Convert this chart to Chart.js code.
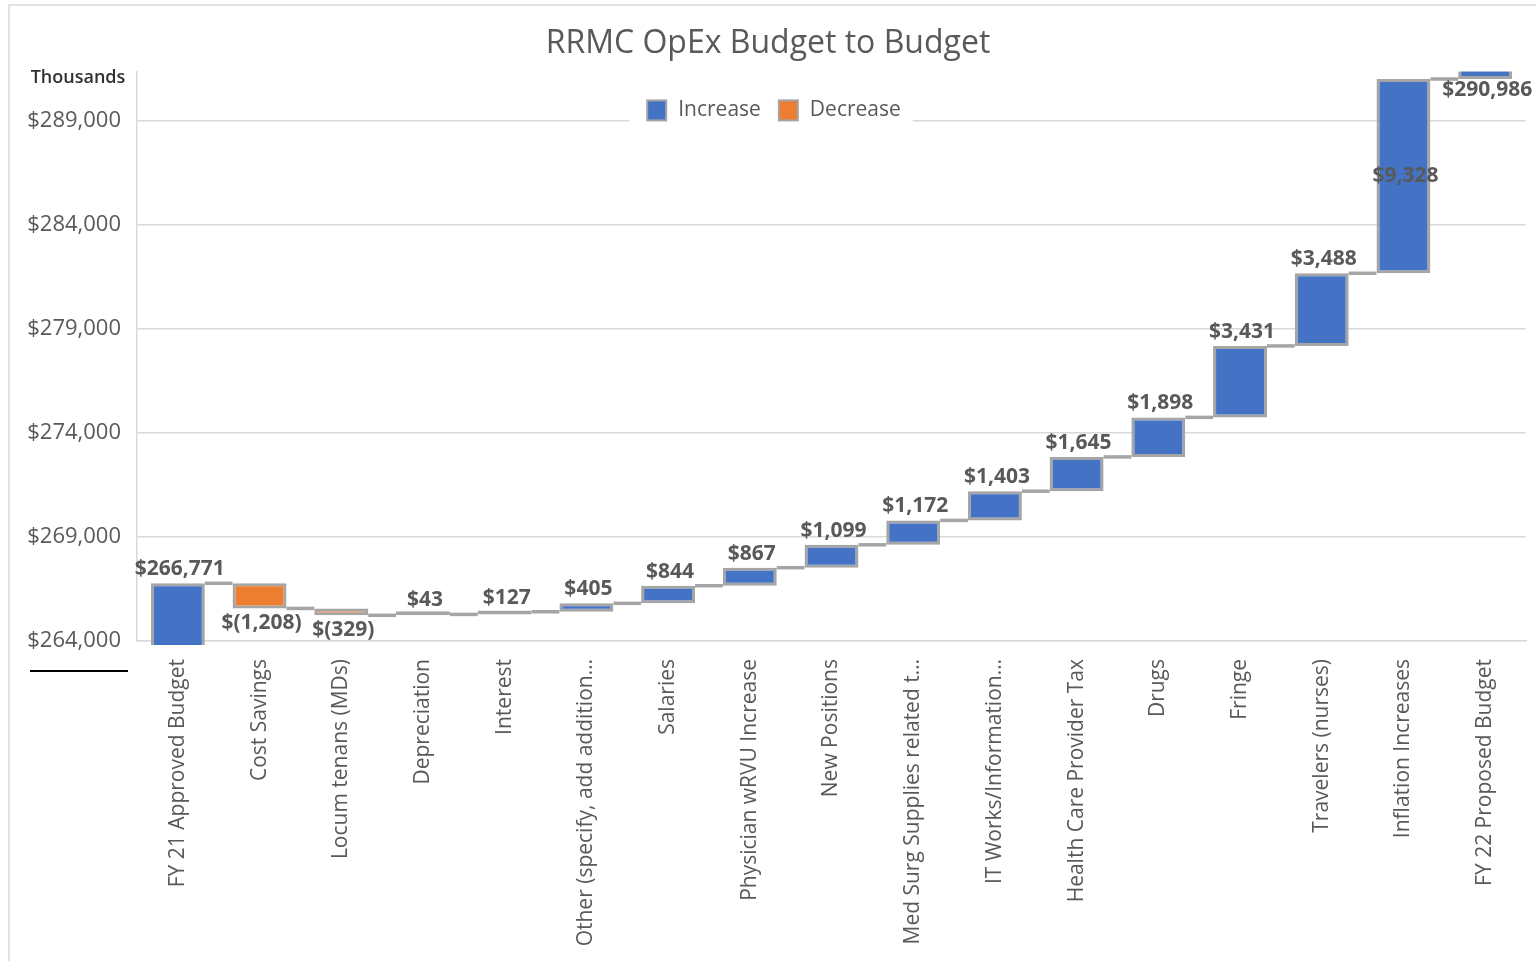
<!DOCTYPE html>
<html>
<head>
<meta charset="utf-8">
<title>RRMC OpEx Budget to Budget</title>
<script src="https://cdn.jsdelivr.net/npm/chart.js@4/dist/chart.umd.min.js"></script>
<style>
  html, body { margin: 0; padding: 0; background: #fff; }
  #wrap { width: 1536px; height: 961px; }
</style>
</head>
<body>
<div id="wrap"><canvas id="budget" width="1536" height="961"></canvas></div>
<script>
// categories along the bottom, in waterfall order
var categories = [
    "FY 21 Approved Budget",
    "Cost Savings",
    "Locum tenans (MDs)",
    "Depreciation",
    "Interest",
    "Other (specify, add addition\u2026",
    "Salaries",
    "Physician wRVU Increase",
    "New Positions",
    "Med Surg Supplies related t\u2026",
    "IT Works/Information\u2026",
    "Health Care Provider Tax",
    "Drugs",
    "Fringe",
    "Travelers (nurses)",
    "Inflation Increases",
    "FY 22 Proposed Budget"
];

// amounts in thousands
var amounts = [266771, -1208, -329, 43, 127, 405, 844, 867, 1099, 1172, 1403, 1645, 1898, 3431, 3488, 9328, 290986];

// y axis
var yTicks = [264000, 269000, 274000, 279000, 284000, 289000];
var yMin = 264000;
var yMax = 291350;

var legendLabels = ["Increase", "Decrease"];

var increaseColor = "#4472C4";
var decreaseColor = "#ED7D31";
var edgeColor = "#A5A5A5";
var textColor = "#595959";
var fontFamily = "'Open Sans', 'DejaVu Sans', sans-serif";

// every step sits on top of the running total (like the excel sheet does)
var bars = [];
var running = 0;
for (let i = 0; i < amounts.length; i++) {
    var start = running;
    var end = running + amounts[i];
    bars.push([start, end]);
    running = end;
}

function money(v) {
    var s = "$" + Math.abs(v).toLocaleString("en-US");
    if (v < 0) {
        s = "$(" + Math.abs(v).toLocaleString("en-US") + ")";
    }
    return s;
}

var waterfallExtras = {
    id: "waterfallExtras",

    beforeDraw: function (chart) {
        var ctx = chart.ctx;
        ctx.save();
        ctx.fillStyle = "#fff";
        ctx.fillRect(0, 0, chart.width, chart.height);
        // outer frame of the chart object
        ctx.strokeStyle = "#d9d9d9";
        ctx.lineWidth = 1.5;
        ctx.strokeRect(9, 5, chart.width + 20, chart.height + 20);
        ctx.restore();
    },

    afterDatasetsDraw: function (chart) {
        var ctx = chart.ctx;
        var meta = chart.getDatasetMeta(0);
        var yScale = chart.scales.y;
        var area = chart.chartArea;

        // connector lines between the steps
        ctx.save();
        ctx.strokeStyle = edgeColor;
        ctx.lineWidth = 3.5;
        for (let i = 0; i < bars.length - 1; i++) {
            var bar = meta.data[i];
            var next = meta.data[i + 1];
            var y = yScale.getPixelForValue(bars[i][1]);
            if (y < area.top || y > area.bottom) continue;
            ctx.beginPath();
            ctx.moveTo(bar.x + bar.width / 2, y);
            ctx.lineTo(next.x - next.width / 2, y);
            ctx.stroke();
        }
        ctx.restore();

        // value labels
        ctx.save();
        ctx.font = "bold 21px " + fontFamily;
        ctx.fillStyle = textColor;
        ctx.textAlign = "center";
        ctx.textBaseline = "middle";
        for (let i = 0; i < bars.length; i++) {
            var b = meta.data[i];
            var startPx = yScale.getPixelForValue(bars[i][0]);
            var endPx = yScale.getPixelForValue(bars[i][1]);
            var text = money(amounts[i]);
            var ly;
            if (amounts[i] >= 0) {
                if (endPx - 28 > area.top) {
                    ly = endPx - 14;
                } else {
                    var visTop = Math.max(endPx, area.top);
                    var visBottom = Math.min(startPx, area.bottom);
                    if (visBottom - visTop > 60) {
                        ly = (visTop + visBottom) / 2;
                    } else {
                        ly = startPx + 11;
                    }
                }
            } else {
                ly = endPx + 15;
            }
            ctx.fillText(text, b.x + 2, ly);
        }
        ctx.restore();
    },

    afterDraw: function (chart) {
        var ctx = chart.ctx;
        var area = chart.chartArea;
        ctx.save();

        // legend sitting on the top gridline
        ctx.font = "21px " + fontFamily;
        var sw = 19;
        var gap = 12;
        var itemGap = 18;
        var w1 = ctx.measureText(legendLabels[0]).width;
        var w2 = ctx.measureText(legendLabels[1]).width;
        var total = sw + gap + w1 + itemGap + sw + gap + w2;
        var x0 = chart.width / 2 + 6 - total / 2;
        var cy = area.top + 39;

        ctx.fillStyle = "#fff";
        ctx.fillRect(x0 - 18, cy - 16, total + 30, 32);

        var colors = [increaseColor, decreaseColor];
        var widths = [w1, w2];
        var x = x0;
        for (let i = 0; i < legendLabels.length; i++) {
            ctx.fillStyle = colors[i];
            ctx.fillRect(x, cy - 10, sw, 20);
            ctx.strokeStyle = edgeColor;
            ctx.lineWidth = 2;
            ctx.strokeRect(x, cy - 10, sw, 20);
            ctx.fillStyle = textColor;
            ctx.textAlign = "left";
            ctx.textBaseline = "middle";
            ctx.fillText(legendLabels[i], x + sw + gap, cy);
            x = x + sw + gap + widths[i] + itemGap;
        }

        // display units label
        ctx.font = "600 18px " + fontFamily;
        ctx.fillStyle = "#303030";
        ctx.textAlign = "center";
        ctx.fillText("Thousands", area.left - 59, area.top + 6);

        // short black rule under the axis labels
        ctx.strokeStyle = "#000";
        ctx.lineWidth = 2;
        ctx.beginPath();
        ctx.moveTo(area.left - 107, area.bottom + 30);
        ctx.lineTo(area.left - 9, area.bottom + 30);
        ctx.stroke();

        ctx.restore();
    }
};

Chart.defaults.font.family = fontFamily;

new Chart(document.getElementById("budget"), {
    type: "bar",
    data: {
        labels: categories,
        datasets: [{
            label: "Budget",
            data: bars,
            backgroundColor: amounts.map(v => (v < 0 ? decreaseColor : increaseColor)),
            borderColor: edgeColor,
            borderWidth: 3,
            borderSkipped: false,
            minBarLength: 4,
            barPercentage: 0.66,
            categoryPercentage: 1,
            clip: { left: 0, top: 0, right: 0, bottom: 4 }
        }]
    },
    options: {
        responsive: false,
        animation: false,
        layout: { padding: { left: 10, right: 10, top: 0, bottom: 0 } },
        plugins: {
            legend: { display: false },
            tooltip: { enabled: false },
            title: {
                display: true,
                text: "RRMC OpEx Budget to Budget",
                color: textColor,
                font: { size: 32, weight: "normal" },
                padding: { top: 25, bottom: 8 }
            }
        },
        scales: {
            x: {
                grid: { display: false },
                border: { display: true, color: "#d9d9d9", width: 1.5 },
                ticks: {
                    color: textColor,
                    font: { size: 21 },
                    minRotation: 90,
                    maxRotation: 90,
                    autoSkip: false,
                    padding: 10
                },
                afterFit: function (s) { s.height = 320; }
            },
            y: {
                min: yMin,
                max: yMax,
                afterBuildTicks: function (axis) {
                    axis.ticks = yTicks.map(v => ({ value: v }));
                },
                grid: { color: "#d9d9d9", lineWidth: 1.5, drawTicks: false },
                border: { display: true, color: "#d9d9d9", width: 1.5 },
                ticks: {
                    color: textColor,
                    font: { size: 22 },
                    padding: 16,
                    callback: function (v) { return money(v); }
                },
                afterFit: function (s) { s.width = 127; }
            }
        }
    },
    plugins: [waterfallExtras]
});
</script>
</body>
</html>
